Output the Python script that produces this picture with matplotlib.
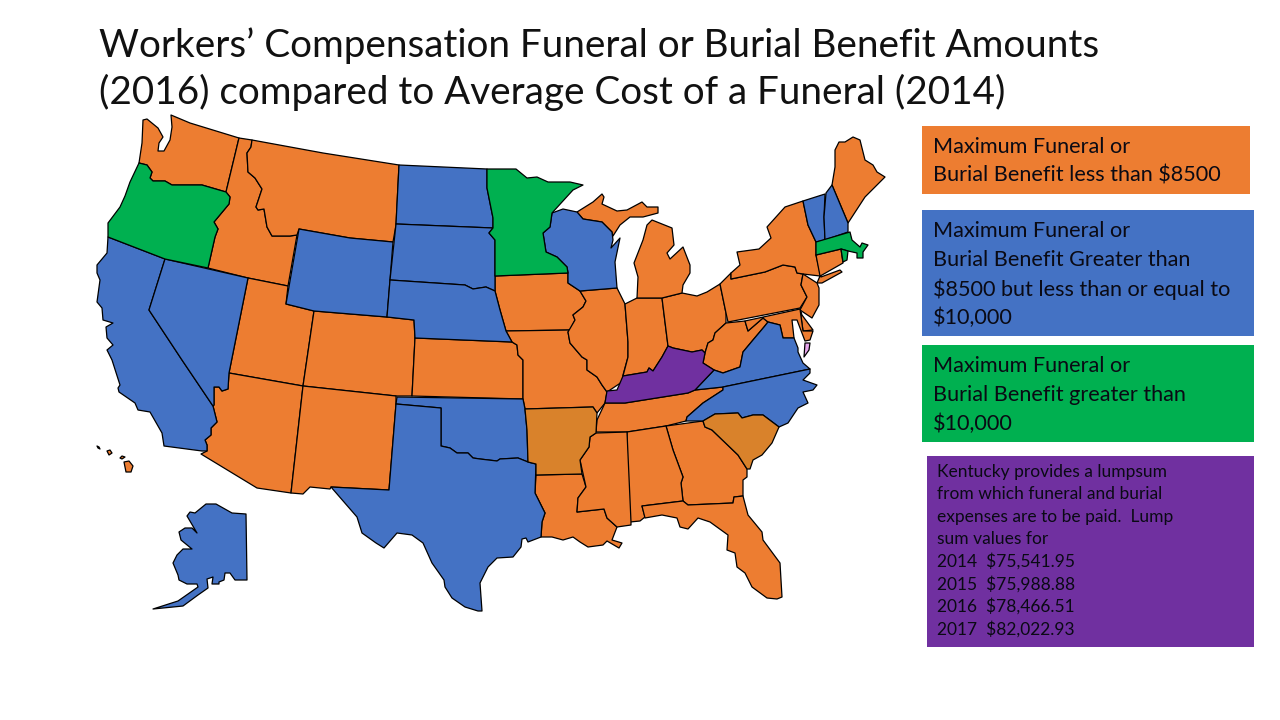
import matplotlib
matplotlib.use("Agg")
import matplotlib.pyplot as plt
from matplotlib.patches import Rectangle

plt.rcParams['font.family'] = ['Lato', 'DejaVu Sans']

ORANGE = '#ED7D31'
BLUE = '#4472C4'
GREEN = '#00B050'
PURPLE = '#7030A0'
DARK_ORANGE = '#D9822B'
PINK = '#E6A5EC'

title_lines = ["Workers\u2019 Compensation Funeral or Burial Benefit Amounts",
               "(2016) compared to Average Cost of a Funeral (2014)"]
orange_text = ["Maximum Funeral or", "Burial Benefit less than $8500"]
blue_text = ["Maximum Funeral or", "Burial Benefit Greater than",
             "$8500 but less than or equal to", "$10,000"]
green_text = ["Maximum Funeral or", "Burial Benefit greater than", "$10,000"]
purple_text = ["Kentucky provides a lumpsum", "from which funeral and burial",
               "expenses are to be paid.  Lump", "sum values for",
               "2014  $75,541.95", "2015  $75,988.88", "2016  $78,466.51", "2017  $82,022.93"]

# state outlines (x, y in picture pixels)
WA = [(143,120),(147,119),(158,128),(163,137),(159,143),(158,151),(164,151),(170,140),(172,127),(171,115),(190,123),(239,138),(226,192),(202,185),(172,185),(165,181),(153,181),(150,178),(152,172),(147,165),(139,163),(142,143)]
OR = [(139,163),(147,165),(152,172),(150,178),(153,181),(165,181),(172,185),(202,185),(226,192),(230,197),(229,204),(214,222),(218,229),(215,237),(208,268),(165,259),(108,237),(108,223),(120,207),(125,196),(130,182)]
ID = [(239,138),(252,140),(251,147),(247,153),(248,172),(255,178),(262,189),(256,207),(258,210),(264,209),(267,227),(272,236),(290,236),(297,235),(288,286),(248,278),(208,268),(215,237),(218,229),(214,222),(229,204),(230,197),(226,192)]
MT = [(252,140),(323,153),(399,165),(396,225),(393,242),(350,238),(299,229),(297,235),(290,236),(272,236),(267,227),(264,209),(258,210),(256,207),(262,189),(255,178),(248,172),(247,153),(251,147)]
WY = [(299,229),(350,238),(393,242),(390,280),(387,317),(314,311),(286,304)]
UT = [(248,278),(288,286),(286,304),(314,311),(303,386),(229,373)]
CO = [(314,311),(387,317),(414,320),(415,338),(412,396),(396,396),(303,386)]
NV = [(165,259),(248,278),(229,373),(228,389),(222,391),(219,387),(214,387),(214,405),(213,406),(182,360),(149,310)]
CA = [(108,237),(165,259),(149,310),(182,360),(213,406),(217,422),(211,428),(211,435),(205,440),(207,445),(207,451),(202,451),(164,446),(162,433),(150,412),(138,410),(135,403),(119,392),(118,388),(120,385),(112,360),(107,350),(113,345),(107,338),(106,327),(113,323),(103,320),(102,308),(97,302),(100,280),(97,273),(97,265),(107,253)]
AZ = [(229,373),(303,386),(291,493),(257,488),(201,454),(207,451),(207,445),(205,440),(211,435),(211,428),(217,422),(213,406),(214,405),(214,387),(219,387),(222,391),(228,389)]
NM = [(303,386),(396,396),(396,404),(389,490),(331,487),(330,489),(310,487),(303,494),(291,493)]
HI = [(124,462),(129,461),(133,466),(131,472),(126,472)]
HI2 = [(120,458),(122,456),(125,457),(122,459)]
HI3 = [(107,451),(110,450),(112,453),(109,455)]
HI4 = [(97,446),(99,447),(100,449),(98,448)]
AK = [(153,609),(178,601),(198,587),(197,584),(187,584),(179,580),(178,575),(173,563),(177,555),(183,549),(192,549),(181,540),(179,532),(185,528),(192,528),(197,533),(187,516),(190,512),(195,513),(206,504),(216,504),(232,513),(246,514),(247,580),(235,580),(230,573),(225,573),(224,580),(219,582),(219,584),(212,584),(213,577),(207,579),(208,588),(198,595),(183,606)]
ND = [(399,165),(487,169),(487,188),(493,218),(493,228),(396,224)]
SD = [(396,224),(493,228),(489,233),(495,240),(495,291),(486,287),(473,289),(465,285),(390,280)]
NE = [(390,280),(465,285),(473,289),(486,287),(495,291),(500,310),(506,331),(512,342),(415,338),(414,320),(387,317)]
KS = [(415,338),(512,342),(517,345),(518,355),(523,360),(523,399),(412,396)]
OK = [(397,397),(523,399),(525,409),(527,430),(528,462),(518,458),(500,459),(497,461),(480,459),(473,458),(468,453),(457,453),(450,448),(441,446),(441,408),(396,404)]
TX = [(396,404),(441,408),(441,446),(450,448),(457,453),(468,453),(473,458),(480,459),(497,461),(500,459),(518,458),(528,462),(536,464),(535,493),(545,513),(542,522),(541,537),(528,542),(526,538),(522,539),(521,547),(513,557),(497,558),(488,567),(480,583),(482,611),(478,611),(465,607),(452,598),(445,587),(444,580),(432,563),(423,543),(412,535),(397,533),(384,548),(376,543),(362,533),(357,517),(331,487),(389,490)]
IA = [(495,276),(568,273),(568,283),(580,291),(586,301),(583,307),(573,315),(575,320),(570,330),(506,331),(500,310),(495,291)]
MN = [(487,169),(516,169),(527,178),(537,177),(548,182),(570,182),(583,185),(573,190),(552,213),(550,227),(543,233),(546,252),(557,257),(567,267),(568,273),(495,276),(495,240),(489,233),(493,228),(493,218),(487,188)]
WI = [(552,213),(563,209),(577,212),(583,219),(602,222),(612,232),(613,240),(611,248),(620,238),(615,262),(617,288),(580,291),(568,283),(568,273),(567,267),(557,257),(546,252),(543,233),(550,227)]
MI_UP = [(577,212),(593,202),(602,194),(604,197),(602,204),(617,211),(627,210),(642,202),(647,207),(658,207),(658,213),(643,217),(630,217),(620,225),(613,236),(612,232),(602,222),(583,219)]
MI_LOW = [(652,220),(672,228),(674,245),(667,253),(670,259),(683,247),(690,265),(690,273),(683,285),(682,293),(662,298),(637,298),(638,277),(634,263),(643,240),(647,225)]
IL = [(617,288),(625,304),(628,342),(628,357),(623,375),(622,382),(607,392),(602,385),(597,377),(587,370),(587,360),(582,357),(570,343),(568,332),(575,320),(573,315),(583,307),(586,301),(580,291)]
IN = [(625,304),(637,298),(662,298),(668,346),(662,357),(653,371),(649,368),(647,372),(623,376),(628,357),(628,342)]
OH = [(662,298),(682,293),(697,296),(707,292),(720,284),(726,313),(726,323),(715,333),(713,340),(708,343),(705,353),(702,350),(692,352),(673,348),(668,346)]
KY = [(607,391),(617,390),(623,376),(647,372),(649,368),(653,371),(662,357),(668,346),(673,348),(692,352),(702,350),(705,353),(703,363),(714,370),(695,390),(688,393),(625,403),(605,403)]
WV = [(726,323),(745,321),(748,331),(763,318),(768,322),(764,327),(753,340),(743,352),(740,367),(723,373),(714,370),(703,363),(705,353),(708,343),(713,340),(715,333)]
PA = [(720,284),(731,273),(731,279),(765,272),(783,265),(795,267),(797,273),(803,274),(801,285),(807,297),(800,308),(728,322),(726,313)]
NY = [(731,273),(740,265),(737,252),(759,249),(771,238),(767,227),(785,207),(803,201),(808,225),(816,242),(816,255),(821,277),(840,270),(842,272),(822,283),(817,283),(820,276),(803,274),(797,273),(795,267),(783,265),(765,272),(731,279)]
NJ = [(803,274),(817,283),(819,288),(819,305),(812,318),(800,310),(807,297),(801,285)]
VT = [(803,201),(825,194),(824,217),(825,240),(816,242),(808,225)]
NH = [(826,193),(832,185),(848,223),(848,232),(825,240),(824,217)]
ME = [(832,185),(835,167),(835,150),(839,142),(845,142),(853,137),(860,140),(865,160),(873,165),(877,172),(885,177),(865,197),(850,220),(848,223)]
MA = [(816,242),(850,232),(852,240),(860,247),(862,243),(868,245),(863,252),(863,258),(857,258),(857,253),(848,251),(841,249),(816,255)]
RI = [(841,249),(848,251),(847,260),(843,262)]
CT = [(816,255),(841,249),(843,263),(822,275),(820,276)]
DE = [(800,309),(802,315),(813,330),(803,331)]
MD = [(745,321),(800,309),(803,331),(813,331),(810,340),(805,341),(797,320),(792,320),(794,338),(783,338),(780,325),(768,322),(763,318),(748,331)]
DC = [(805,343),(810,343),(809,350),(804,357)]
VA = [(695,390),(714,370),(723,373),(740,367),(743,352),(753,340),(764,327),(768,322),(780,325),(783,338),(794,338),(798,348),(798,352),(803,363),(810,369),(723,387)]
NC = [(723,387),(810,369),(810,373),(803,380),(817,385),(813,390),(803,392),(808,403),(798,408),(788,423),(779,427),(763,415),(753,415),(742,418),(738,413),(715,414),(703,421),(686,421),(687,417),(703,403),(723,390)]
TN = [(723,387),(723,390),(703,403),(687,417),(686,421),(666,426),(627,432),(596,432),(597,420),(605,403),(625,403),(688,393),(695,390)]
SC = [(703,421),(715,414),(738,413),(742,418),(753,415),(763,415),(779,427),(772,443),(762,455),(753,460),(750,469),(747,469),(738,455),(712,430),(705,427)]
GA = [(666,426),(703,421),(705,427),(712,430),(738,455),(747,469),(747,477),(743,480),(743,496),(734,497),(733,503),(688,505),(683,501),(681,483),(683,477),(673,450)]
AL = [(627,432),(666,426),(673,450),(683,477),(681,483),(683,501),(642,506),(645,517),(640,521),(630,522),(627,473)]
FL = [(642,506),(683,501),(688,505),(733,503),(734,497),(743,496),(748,515),(762,532),(763,540),(780,563),(782,597),(777,599),(767,598),(752,587),(745,573),(737,567),(735,553),(727,550),(728,535),(710,522),(698,518),(688,529),(680,527),(677,518),(662,515),(645,518)]
MS = [(596,433),(627,432),(631,522),(631,525),(617,527),(607,518),(604,509),(577,512),(578,498),(586,487),(580,460),(589,447),(590,437)]
LA = [(536,475),(582,474),(586,487),(578,498),(577,512),(604,509),(607,518),(617,527),(612,540),(622,543),(619,548),(607,541),(603,545),(588,547),(580,542),(573,537),(563,540),(552,537),(541,537),(542,522),(545,513),(535,493)]
AR = [(525,409),(593,407),(597,413),(596,433),(590,437),(589,447),(580,460),(582,474),(536,475),(536,464),(528,462),(527,430)]
MO = [(506,331),(570,330),(568,332),(570,343),(582,357),(587,360),(587,370),(597,377),(602,385),(607,392),(605,403),(597,413),(593,407),(525,409),(523,399),(523,360),(518,355),(517,345),(512,342)]

orange_states = [WA, ID, MT, UT, CO, AZ, NM, HI, HI2, HI3, HI4, KS, IA, MO, LA, IL, IN, OH, MI_UP, MI_LOW, WV, PA, NY, NJ, ME, CT, DE, MD, TN, GA, AL, FL, MS]
blue_states = [CA, NV, WY, ND, SD, NE, OK, TX, WI, VT, NH, VA, NC, AK]
green_states = [OR, MN, MA, RI]

fig = plt.figure(figsize=(12.8, 7.2), dpi=100)
ax = fig.add_axes([0, 0, 1, 1])
ax.set_xlim(0, 1280)
ax.set_ylim(720, 0)
ax.axis('off')


def draw_states(states, color):
    for s in states:
        xs = [p[0] for p in s]
        ys = [p[1] for p in s]
        ax.fill(xs, ys, facecolor=color, edgecolor='black', linewidth=0.9, joinstyle='round')


draw_states(orange_states, ORANGE)
draw_states(blue_states, BLUE)
draw_states(green_states, GREEN)
draw_states([KY], PURPLE)
draw_states([AR, SC], DARK_ORANGE)
draw_states([DC], PINK)


def box(x0, y0, x1, y1, color, lines, x_text, y_first, step, size):
    ax.add_patch(Rectangle((x0, y0), x1 - x0, y1 - y0, facecolor=color, edgecolor='none'))
    for i, line in enumerate(lines):
        ax.text(x_text, y_first + i * step, line, fontsize=size, color='#0a0a14', va='center', ha='left')


for i, line in enumerate(title_lines):
    ax.text(99, 46 + i * 46, line, fontsize=27.85, color='#111111', va='center', ha='left')

box(922, 126, 1250, 194, ORANGE, orange_text, 933, 147, 29, 15.6)
box(922, 210, 1254, 336, BLUE, blue_text, 933, 231, 29, 15.6)
box(922, 345, 1254, 442, GREEN, green_text, 933, 366, 29, 15.6)
box(927, 456, 1254, 647, PURPLE, purple_text, 937, 472, 22.4, 12.5)

fig.savefig('out.png', dpi=100)
